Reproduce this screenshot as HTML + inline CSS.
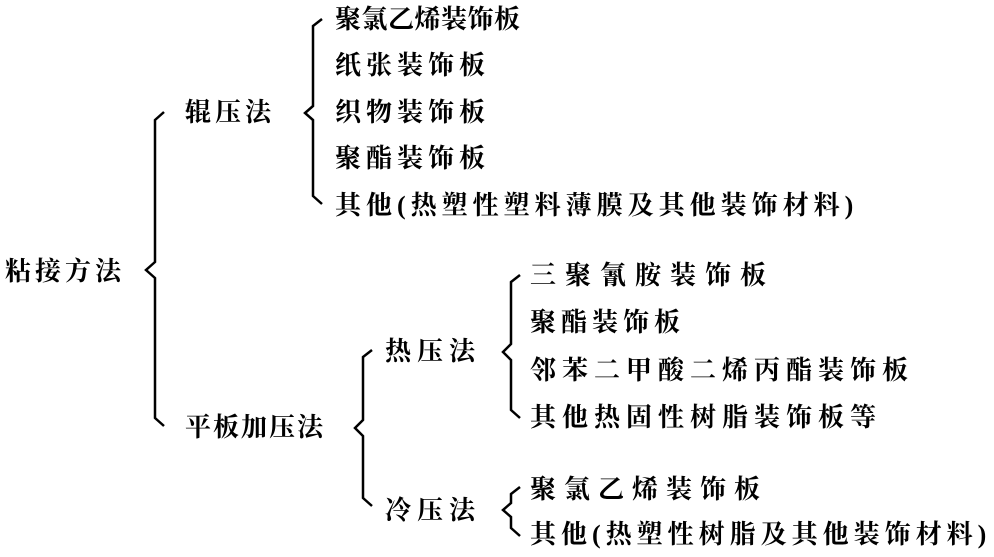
<!DOCTYPE html>
<html><head><meta charset="utf-8"><style>
body{margin:0;width:994px;height:557px;background:#fff;position:relative;overflow:hidden}
.t{position:absolute;font-family:"Liberation Serif","Noto Serif CJK SC",serif;font-weight:bold;font-size:26px;line-height:30px;height:30px;color:#000;white-space:nowrap;transform:translateY(-15px)}
svg{position:absolute;left:0;top:0}
</style></head><body>
<svg width="994" height="557" fill="none" stroke="#000" stroke-width="2.5">
<path d="M164,112 L155,120 L155,262 L146,270 L155,278 L155,418 L164,426"/>
<path d="M322,19 L313,26 L313,106 L305,113 L313,120 L313,196 L322,204"/>
<path d="M372,350 L363,357 L363,420 L355,428 L363,436 L363,498 L372,506"/>
<path d="M520,275 L511,282 L511,344 L503,352 L511,360 L511,410 L520,418"/>
<path d="M520,487 L511,494 L511,503 L503,510 L511,517 L511,528 L520,536"/>
</svg>
<div class="t" style="left:5px;top:272px;letter-spacing:4px">粘接方法</div>
<div class="t" style="left:185px;top:113px;letter-spacing:4px">辊压法</div>
<div class="t" style="left:335px;top:20px;letter-spacing:0.5px">聚氯乙烯装饰板</div>
<div class="t" style="left:335px;top:66px;letter-spacing:5px">纸张装饰板</div>
<div class="t" style="left:335px;top:113px;letter-spacing:5px">织物装饰板</div>
<div class="t" style="left:335px;top:159px;letter-spacing:5px">聚酯装饰板</div>
<div class="t" style="left:335px;top:206px;letter-spacing:5px">其他(热塑性塑料薄膜及其他装饰材料)</div>
<div class="t" style="left:185px;top:428px;letter-spacing:2px">平板加压法</div>
<div class="t" style="left:385px;top:352px;letter-spacing:6px">热压法</div>
<div class="t" style="left:530px;top:276px;letter-spacing:9px">三聚氰胺装饰板</div>
<div class="t" style="left:530px;top:323px;letter-spacing:5px">聚酯装饰板</div>
<div class="t" style="left:530px;top:371px;letter-spacing:6px">邻苯二甲酸二烯丙酯装饰板</div>
<div class="t" style="left:530px;top:418px;letter-spacing:6px">其他热固性树脂装饰板等</div>
<div class="t" style="left:385px;top:511px;letter-spacing:6px">冷压法</div>
<div class="t" style="left:530px;top:490px;letter-spacing:8px">聚氯乙烯装饰板</div>
<div class="t" style="left:530px;top:535px;letter-spacing:5px">其他(热塑性树脂及其他装饰材料)</div>
</body></html>
